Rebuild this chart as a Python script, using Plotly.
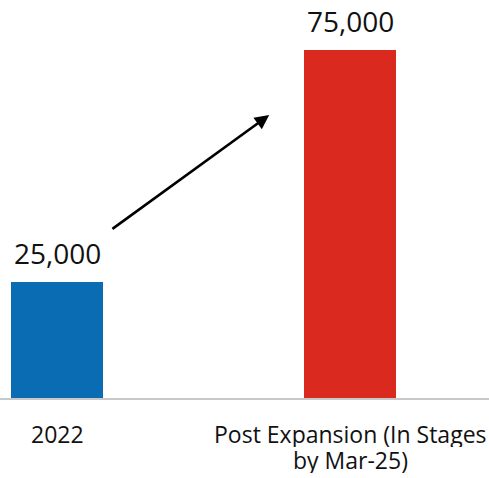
import plotly.graph_objects as go

# Capacity figures
categories = ["2022", "Post Expansion (In Stages<br>by Mar-25)"]
capacity = [25000, 75000]
bar_colors = ["#0A6DB3", "#DA291F"]

FONT = "Open Sans"
LABEL_SIZE = 23
LINE_STEP = 26  # px between label lines

fig = go.Figure()
fig.add_trace(go.Bar(
    x=[0, 1],
    y=capacity,
    width=0.314,
    marker=dict(color=bar_colors, line=dict(width=0)),
    hoverinfo="skip",
))

# Value labels above each bar
for i, v in enumerate(capacity):
    fig.add_annotation(
        x=i, y=v, xref="x", yref="y",
        text=f"{v:,}", showarrow=False,
        yanchor="bottom", yshift=8,
        font=dict(family=FONT, size=28, color="#111111"),
    )

# Category labels under the axis, one annotation per line for tight spacing
for i, cat in enumerate(categories):
    for j, line in enumerate(cat.split("<br>")):
        fig.add_annotation(
            x=i, y=0, xref="x", yref="y",
            text=line, showarrow=False,
            height=LINE_STEP, valign="middle", borderpad=0,
            yanchor="top", yshift=-22 - j * LINE_STEP,
            font=dict(family=FONT, size=LABEL_SIZE, color="#111111"),
        )

# Growth arrow between the two bars
fig.add_annotation(
    x=0.724, y=60990, ax=0.184, ay=36207,
    xref="x", yref="y", axref="x", ayref="y",
    text="", showarrow=True,
    arrowhead=2, arrowsize=1.1, arrowwidth=2.6, arrowcolor="#000000",
)

fig.update_layout(
    width=489, height=478,
    margin=dict(l=0, r=0, t=0, b=80),
    paper_bgcolor="white", plot_bgcolor="white",
    showlegend=False,
    bargap=0,
    xaxis=dict(
        range=[-0.1945, 1.474],
        tickvals=[0, 1], showticklabels=False,
        showgrid=False, zeroline=False,
        showline=True, linecolor="#c8c8c8", linewidth=2,
        ticks="",
    ),
    yaxis=dict(
        range=[0, 85776], visible=False,
        showgrid=False, zeroline=False,
    ),
)

fig.write_html("out.html")
